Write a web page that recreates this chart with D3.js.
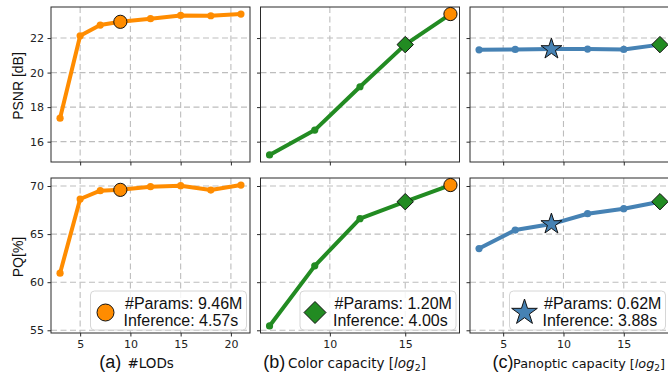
<!DOCTYPE html>
<html><head><meta charset="utf-8">
<script src="https://cdn.jsdelivr.net/npm/d3@7"></script>
<style>body{margin:0;background:#fff}svg{display:block}</style>
</head><body><svg id="c" width="668" height="372"></svg>
<script>
// ---- data ----
const lodsX   = [3, 5, 7, 9, 12, 15, 18, 21];
const lodsPSNR = [17.36, 22.13, 22.75, 22.94, 23.12, 23.31, 23.29, 23.39];
const lodsPQ   = [60.94, 68.65, 69.51, 69.60, 69.93, 70.03, 69.58, 70.10];
const colorX    = [6, 9, 12, 15, 18];
const colorPSNR = [15.23, 16.67, 19.18, 21.62, 23.39];
const colorPQ   = [55.45, 61.70, 66.60, 68.37, 70.10];
const panX    = [3, 6, 9, 12, 15, 18];
const panPSNR = [21.32, 21.34, 21.36, 21.36, 21.34, 21.62];
const panPQ   = [63.50, 65.42, 66.04, 67.12, 67.64, 68.37];
const psnrTicks = [16, 18, 20, 22];
const pqTicks = [55, 60, 65, 70];
const lodsTicks = [5, 10, 15, 20];
const colorTicks = [10, 15];
const panTicks = [5, 10, 15];
const legendParams = ["9.46M", "1.20M", "0.62M"];
const legendInference = ["4.57s", "4.00s", "3.88s"];

const ORANGE = "#ff8c00", GREEN = "#228b22", BLUE = "#4682b4";

const svg = d3.select("#c");

function pad(ext){ const r = ext[1]-ext[0]; return [ext[0]-0.05*r, ext[1]+0.05*r]; }

const rows = [
  {y0: 7, y1: 162, key: "psnr", ticks: psnrTicks, label: "PSNR [dB]",
   dom: pad(d3.extent([...lodsPSNR, ...colorPSNR, ...panPSNR]))},
  {y0: 178, y1: 333, key: "pq", ticks: pqTicks, label: "PQ[%]",
   dom: pad(d3.extent([...lodsPQ, ...colorPQ, ...panPQ]))}
];
const cols = [
  {x0: 51, x1: 250, xs: lodsX, psnr: lodsPSNR, pq: lodsPQ, color: ORANGE, xticks: lodsTicks,
   hl: [{i: 3, shape: "circle", fill: ORANGE}], leg: {shape: "circle", fill: ORANGE}},
  {x0: 260.5, x1: 459.5, xs: colorX, psnr: colorPSNR, pq: colorPQ, color: GREEN, xticks: colorTicks,
   hl: [{i: 3, shape: "diamond", fill: GREEN}, {i: 4, shape: "circle", fill: ORANGE}], leg: {shape: "diamond", fill: GREEN}},
  {x0: 470, x1: 669, xs: panX, psnr: panPSNR, pq: panPQ, color: BLUE, xticks: panTicks,
   hl: [{i: 2, shape: "star", fill: BLUE}, {i: 5, shape: "diamond", fill: GREEN}], leg: {shape: "star", fill: BLUE}}
];

function starPath(R){
  const r = R*0.381966, pts = [];
  for(let k=0;k<10;k++){
    const a = -Math.PI/2 + k*Math.PI/5, rr = k%2===0 ? R : r;
    pts.push([rr*Math.cos(a), rr*Math.sin(a)]);
  }
  return "M" + pts.map(p=>p[0].toFixed(2)+","+p[1].toFixed(2)).join("L") + "Z";
}
function marker(g, shape, cx, cy, fill, big){
  if(shape === "circle"){
    g.append("circle").attr("cx", cx).attr("cy", cy).attr("r", big ? 8.5 : 6.6)
      .attr("fill", fill).attr("stroke", "#111").attr("stroke-width", 1);
  } else if(shape === "diamond"){
    const h = big ? 11 : 8.2;
    g.append("path").attr("d", `M${cx},${cy-h}L${cx+h},${cy}L${cx},${cy+h}L${cx-h},${cy}Z`)
      .attr("fill", fill).attr("stroke", "#111").attr("stroke-width", 1);
  } else {
    g.append("path").attr("d", starPath(big ? 13.5 : 11)).attr("transform", `translate(${cx},${cy})`)
      .attr("fill", fill).attr("stroke", "#111").attr("stroke-width", 1);
  }
}

rows.forEach((row, ri) => {
  const y = d3.scaleLinear().domain(row.dom).range([row.y1, row.y0]);
  cols.forEach((col, ci) => {
    const x = d3.scaleLinear().domain(pad(d3.extent(col.xs))).range([col.x0, col.x1]);
    const g = svg.append("g");
    // grid
    g.selectAll(".gx").data(col.xticks).join("line")
      .attr("x1", d=>x(d)).attr("x2", d=>x(d)).attr("y1", row.y0).attr("y2", row.y1)
      .attr("stroke", "#bdbdbd").attr("stroke-width", 1.1).attr("stroke-dasharray", "6,3.5");
    g.selectAll(".gy").data(row.ticks).join("line")
      .attr("x1", col.x0).attr("x2", col.x1).attr("y1", d=>y(d)).attr("y2", d=>y(d))
      .attr("stroke", "#bdbdbd").attr("stroke-width", 1.1).attr("stroke-dasharray", "6,3.5");
    // line
    const vals = col[row.key];
    const pts = col.xs.map((v, i) => [v, vals[i]]);
    g.append("path").datum(pts)
      .attr("d", d3.line().x(d=>x(d[0])).y(d=>y(d[1])))
      .attr("fill", "none").attr("stroke", col.color).attr("stroke-width", 4)
      .attr("stroke-linejoin", "round");
    g.selectAll(".pt").data(pts).join("circle")
      .attr("cx", d=>x(d[0])).attr("cy", d=>y(d[1])).attr("r", 3.6).attr("fill", col.color);
    // spines
    g.append("rect").attr("x", col.x0).attr("y", row.y0)
      .attr("width", col.x1-col.x0).attr("height", row.y1-row.y0)
      .attr("fill", "none").attr("stroke", "#2a2a2a").attr("stroke-width", 1);
    // highlight markers
    col.hl.forEach(h => marker(g, h.shape, x(col.xs[h.i]), y(vals[h.i]), h.fill, false));
    // axes
    const ay = g.append("g").attr("transform", `translate(${col.x0},0)`)
      .call(d3.axisLeft(y).tickValues(row.ticks).tickSize(3.5).tickPadding(3.5)
        .tickFormat(ci === 0 ? d3.format("d") : ""));
    const ax = g.append("g").attr("transform", `translate(0,${row.y1})`)
      .call(d3.axisBottom(x).tickValues(col.xticks).tickSize(3.5).tickPadding(3.5)
        .tickFormat(ri === 1 ? d3.format("d") : ""));
    [ay, ax].forEach(a => {
      a.select(".domain").remove();
      a.selectAll("line").attr("stroke", "#2a2a2a");
      a.selectAll("text").attr("fill", "#222").style("font-family", "DejaVu Sans").style("font-size", "11px");
    });
    // legend
    if(ri === 1){
      const bw = 156, bh = 39, bx = col.x1 - 3.5 - bw, by = row.y1 - 3 - bh;
      const lg = svg.append("g");
      lg.append("rect").attr("x", bx).attr("y", by).attr("width", bw).attr("height", bh)
        .attr("rx", 4).attr("fill", "#fff").attr("fill-opacity", 0.85)
        .attr("stroke", "#d6d6d6").attr("stroke-width", 1);
      marker(lg, col.leg.shape, bx + 15, by + 21.5, col.leg.fill, true);
      const t = lg.append("text").attr("x", bx + 33.5)
        .style("font-family", "'Liberation Sans', Arial, sans-serif").style("font-size", "16px").attr("fill", "#111");
      t.append("tspan").attr("x", bx + 34.5).attr("y", by + 18).text("#Params: " + legendParams[ci]);
      t.append("tspan").attr("x", bx + 33).attr("y", by + 34.5).text("Inference: " + legendInference[ci]);
    }
  });
  // y label
  svg.append("text").attr("transform", `translate(23,${(row.y0+row.y1)/2 + 1.5}) rotate(-90)`)
    .attr("text-anchor", "middle").attr("fill", "#111")
    .style("font-family", "'Liberation Sans', Arial, sans-serif").style("font-size", "14px")
    .text(row.label);
});

// x labels
const xl = [
  {tag: "(a)", tx: 99.3, rx: 127.5, fs: 13.5, parts: [["#LODs", false]]},
  {tag: "(b)", tx: 263.3, rx: 288, fs: 13.5, parts: [["Color capacity [", false], ["log", true], ["2", "sub"], ["]", false]]},
  {tag: "(c)", tx: 492.5, rx: 513, fs: 12.8, parts: [["Panoptic capacity [", false], ["log", true], ["2", "sub"], ["]", false]]}
];
xl.forEach(l => {
  svg.append("text").attr("x", l.tx).attr("y", 368).attr("fill", "#111")
    .style("font-family", "'Liberation Sans', Arial, sans-serif").style("font-size", "18px").text(l.tag);
  const t = svg.append("text").attr("x", l.rx).attr("y", 368).attr("fill", "#111")
    .style("font-family", "DejaVu Sans").style("font-size", l.fs + "px");
  l.parts.forEach(p => {
    const s = t.append("tspan").text(p[0]);
    if(p[1] === true) s.style("font-style", "italic");
    if(p[1] === "sub") s.style("font-size", (l.fs * 0.7) + "px").attr("dy", 3);
    if(p[0] === "]") s.attr("dy", -3);
  });
});
</script>
</body></html>
